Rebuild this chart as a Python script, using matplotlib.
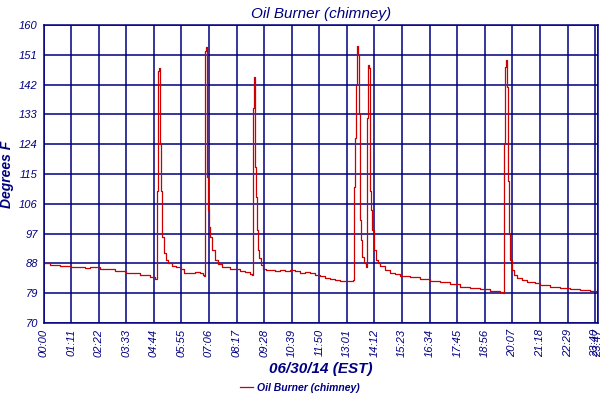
import matplotlib
matplotlib.use("Agg")

import matplotlib.pyplot as plt
from matplotlib.ticker import FixedLocator, FuncFormatter

# ==========================================
# Data: minutes after midnight, degrees F
# ==========================================

minutes = [
    0, 16.7, 42.5, 70.8, 106.8, 119.7, 145.4, 184, 212.4, 248.4, 274.2, 287, 289.6,
    # spike 1
    290.9, 293.5, 296, 297.3, 298.6, 299.9, 301.2, 303.8, 306.3, 310.2, 315.4,
    320.5, 330.8, 341, 354, 360.4, 361.7, 377, 390, 402.9, 410.6, 413.2,
    # spike 2
    414.5, 415.8, 417, 419.1, 420.4, 421.7, 423.5, 426, 428.6, 433.8, 441.5,
    449.2, 459.5, 480, 505.8, 518.7, 531.5, 536.6,
    # spike 3
    538, 540, 541.9, 543.6, 545.2, 547, 549.6, 552.1, 554.7, 559.9, 565, 572.8,
    595.9, 608.8, 621.7, 634.5, 647.4, 660.3, 673.2, 686, 698.9, 711.8, 724.7,
    737.5, 750.4, 763.3, 776.2, 789, 796.7,
    # spike 4
    798.5, 800.1, 801.9, 803.7, 805.8, 807, 808.9, 810.9, 812.2, 814, 815.5,
    817.3, 819.9, 825.1, 830.2,
    # spike 5
    832, 833.6, 835.4, 837.9, 839.2, 840.5, 843.1, 845.7, 850.8, 856, 861.1,
    866.3, 879.1, 892, 904.9, 917.7, 943.5, 969.2, 995, 1020.7, 1046.4, 1072.2,
    1097.9, 1123.7, 1149.4, 1175.2, 1182.9,
    # spike 6
    1184.7, 1186.2, 1188, 1190.6, 1192.4, 1194.5, 1196.5, 1198.3, 1200.9, 1206,
    1211.2, 1218.9, 1231.8, 1244.7, 1265.3, 1278.1, 1303.9, 1329.6, 1355.4,
    1381.1, 1406.8, 1427.4,
]

temps = [
    88.0, 87.6, 87.2, 86.8, 86.7, 86.9, 86.4, 85.8, 85.2, 84.5, 83.9, 83.3, 83.2,
    110, 124, 146, 147, 132, 124, 110, 101, 96, 91, 89,
    88.2, 87.3, 86.8, 86.3, 86.2, 85.2, 85.2, 85.5, 85.2, 84.5, 84.2,
    107, 140, 152, 153.5, 140, 114, 104, 99, 96, 92, 89,
    87.8, 87, 86.3, 85.7, 85.5, 84.9, 84.6,
    97, 135, 144.4, 142, 117, 108, 98, 92, 89.5, 87.5, 86.4, 86,
    85.8, 86, 85.8, 85.9, 85.7, 85, 85.4, 85.0, 84.6, 84.2, 83.7,
    83.2, 83.0, 82.8, 82.7, 82.7, 83,
    103, 111, 126, 142, 151, 153.7, 151, 145, 133, 118, 101,
    95, 90, 88, 87,
    99, 132, 147.9, 147, 130, 110, 104, 98, 92, 89, 88,
    87.2, 86, 85.2, 84.8, 84.3, 83.8, 83.3, 82.8, 82.3, 81.7, 81.0,
    80.6, 80.3, 79.8, 79.3, 79.2,
    105, 124.3, 147.4, 149.4, 141.4, 126, 113, 97, 89, 86,
    84.5, 83.5, 83, 82.5, 82, 81.5, 81, 80.5, 80.3,
    80, 79.8, 79.5,
]

x_ticks = [71 * i for i in range(21)] + [1427]
y_ticks = list(range(70, 161, 9))

NAVY = "#000080"
RED = "#CC0000"

plt.rcParams["font.family"] = ["Liberation Sans", "DejaVu Sans"]

fig = plt.figure(figsize=(6, 4), dpi=100)
ax = fig.add_axes([0.0725, 0.1925, 0.9242, 0.745])

ax.plot(minutes, temps, color=RED, linewidth=0.9, drawstyle="steps-post",
        label="Oil Burner (chimney)")

ax.set_xlim(0, 1427.4)
ax.set_ylim(70, 160)

ax.xaxis.set_major_locator(FixedLocator(x_ticks))
ax.xaxis.set_major_formatter(FuncFormatter(lambda v, p: f"{int(v) // 60:02d}:{int(v) % 60:02d}"))
ax.yaxis.set_major_locator(FixedLocator(y_ticks))

ax.grid(True, color=NAVY, linewidth=1.1)
ax.set_axisbelow(True)
for s in ax.spines.values():
    s.set_color(NAVY)
    s.set_linewidth(1.1)

ax.tick_params(length=0, pad=4, colors=NAVY, labelsize=8)
for lab in ax.get_xticklabels():
    lab.set_rotation(90)
    lab.set_fontstyle("italic")
for lab in ax.get_yticklabels():
    lab.set_fontstyle("italic")

ax.set_title("Oil Burner (chimney)", color=NAVY, fontsize=11, style="italic", pad=5)
ax.set_ylabel("Degrees F", color=NAVY, fontsize=10, style="italic", weight="bold", labelpad=4)
ax.set_xlabel("06/30/14 (EST)", color=NAVY, fontsize=11, style="italic", weight="bold", labelpad=4)

leg = fig.legend(loc="lower center", bbox_to_anchor=(0.5, -0.005), frameon=False,
                 handlelength=1.3, handletextpad=0.4,
                 prop={"size": 7.5, "style": "italic", "weight": "bold"})
for t in leg.get_texts():
    t.set_color(NAVY)

plt.savefig("out.png", dpi=100)
